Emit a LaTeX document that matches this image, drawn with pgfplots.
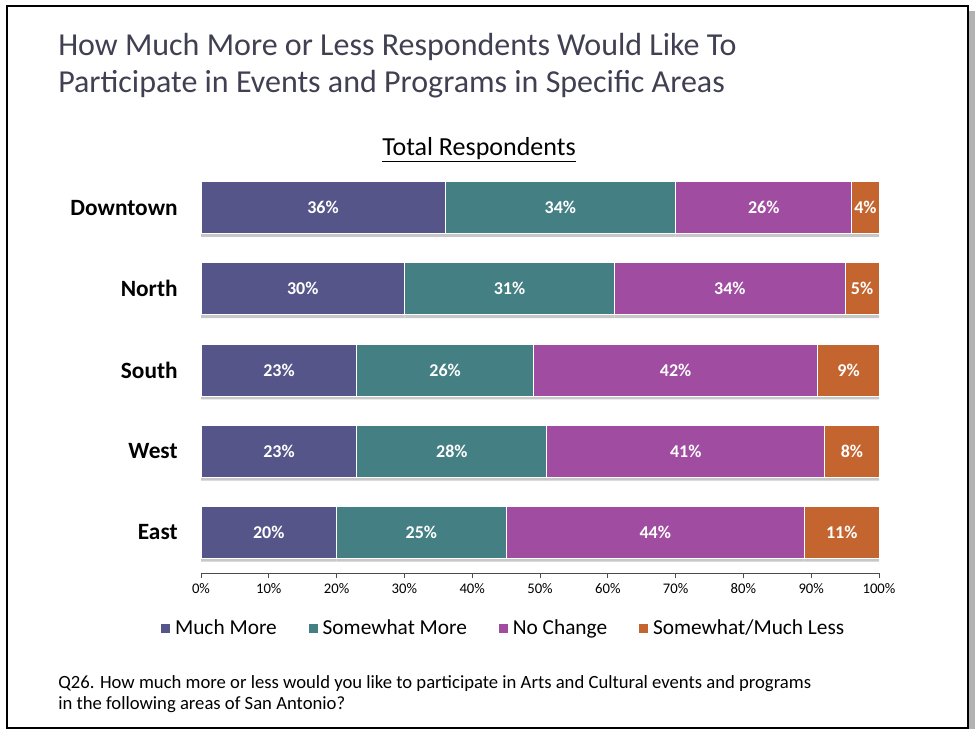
\documentclass[border=0pt]{standalone}
\usepackage{pgfplots}
\pgfplotsset{compat=1.18}
\usepackage{pgfplotstable}
\usepackage{fontspec}
\setmainfont{Carlito}
\definecolor{cMM}{RGB}{85,85,138}
\definecolor{cSM}{RGB}{67,127,131}
\definecolor{cNC}{RGB}{160,76,160}
\definecolor{cLS}{RGB}{196,100,46}
\definecolor{titlec}{RGB}{64,64,82}
\pgfplotstableread{
idx mm sm nc ls
0 20 25 44 11
1 23 28 41 8
2 23 26 42 9
3 30 31 34 5
4 36 34 26 4
}\datatab
\pgfplotsset{
  seg/.style={
    fill=#1, draw=white, line width=0.75pt,
    preaction={fill=black!22, draw=none, transform canvas={yshift=-2.5pt}},
  },
  seglabel/.style={
    point meta=explicit,
    nodes near coords={\pgfmathprintnumber{\pgfplotspointmeta}\%},
    every node near coord/.append style={anchor=center, font=\bfseries\fontsize{13.5}{15}\selectfont, text=white},
  },
  legsq/.style={legend image code/.code={\fill[#1] (0pt,-3pt) rectangle (6pt,3pt);}},
}
\begin{document}
\begin{tikzpicture}
\path (0,0) rectangle (731.25pt,-546.75pt);
\fill[black!30] (727pt,-8pt) rectangle (731pt,-546.75pt);
\draw[black, line width=1.5pt] (5.25pt,-4.5pt) rectangle (726pt,-546pt);
\node[anchor=base west, text=titlec, font=\fontsize{24}{28}\selectfont, inner sep=0pt] at (43.5pt,-41.25pt) {How Much More or Less Respondents Would Like To};
\node[anchor=base west, text=titlec, font=\fontsize{24}{28}\selectfont, inner sep=0pt] at (43.5pt,-69pt) {Participate in Events and Programs in Specific Areas};
\node[anchor=base, font=\fontsize{19.5}{22}\selectfont, inner sep=0pt] at (359.25pt,-116.25pt) {\underline{Total Respondents}};
\node[anchor=base west, font=\fontsize{14}{16}\selectfont, inner sep=0pt] at (43.5pt,-516pt) {Q26. How much more or less would you like to participate in Arts and Cultural events and programs};
\node[anchor=base west, font=\fontsize{14}{16}\selectfont, inner sep=0pt] at (43.5pt,-532pt) {in the following areas of San Antonio?};
\begin{axis}[
  at={(150.75pt,-429.75pt)}, anchor=south west,
  scale only axis, width=508.5pt, height=304.5pt,
  xbar stacked, bar width=39pt,
  xmin=0, xmax=100, ymin=-0.5, ymax=4.5,
  axis x line*=bottom, axis y line*=left,
  y axis line style={draw=none},
  ytick style={draw=none},
  x axis line style={black!70, line width=0.6pt, -},
  xtick={0,10,...,100},
  xticklabel={\pgfmathprintnumber{\tick}\%},
  xtick style={black!70, line width=0.6pt},
  tick align=outside, major tick length=4pt,
  x tick label style={font=\fontsize{11}{12}\selectfont, yshift=-0.5pt},
  /pgf/number format/assume math mode=true,
  ytick={0,1,2,3,4},
  yticklabels={East,West,South,North,Downtown},
  y tick label style={font=\bfseries\fontsize{17.5}{20}\selectfont, xshift=-10pt},
  clip=false,
  legend style={at={(0.447,-0.135)}, anchor=center, draw=none, fill=none,
    legend columns=4, font=\fontsize{16}{18}\selectfont,
    /tikz/every even column/.append style={column sep=22pt},
    /tikz/every odd column/.append style={column sep=2pt},
    legend cell align=left},
]
\addlegendimage{legsq=cMM}\addlegendentry{Much More}
\addlegendimage{legsq=cSM}\addlegendentry{Somewhat More}
\addlegendimage{legsq=cNC}\addlegendentry{No Change}
\addlegendimage{legsq=cLS}\addlegendentry{Somewhat/Much Less}
\addplot[seg=cMM, seglabel] table[x=mm, y=idx, meta=mm] {\datatab};
\addplot[seg=cSM, seglabel] table[x=sm, y=idx, meta=sm] {\datatab};
\addplot[seg=cNC, seglabel] table[x=nc, y=idx, meta=nc] {\datatab};
\addplot[seg=cLS, seglabel] table[x=ls, y=idx, meta=ls] {\datatab};
\end{axis}
\end{tikzpicture}
\end{document}
